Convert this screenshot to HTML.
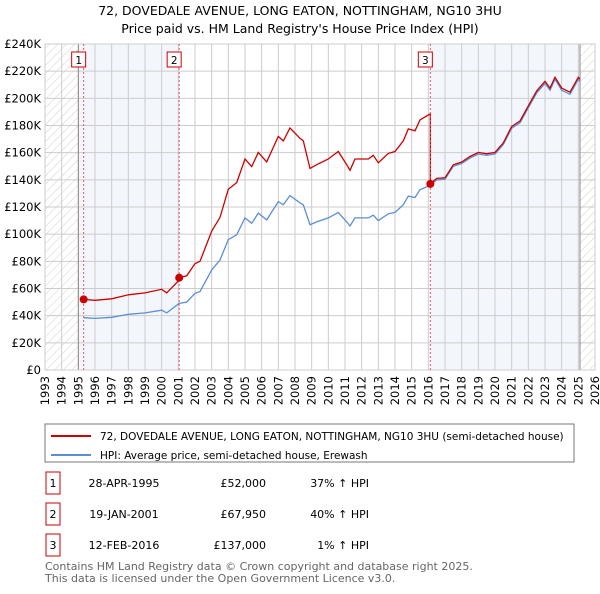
<!DOCTYPE html>
<html><head><meta charset="utf-8"><style>
body{margin:0;background:#fff;font-family:"DejaVu Sans","Liberation Sans",sans-serif;}
svg text{font-family:"DejaVu Sans","Liberation Sans",sans-serif;}
</style></head><body>
<svg id="c" width="600" height="590" xmlns="http://www.w3.org/2000/svg">
<defs><pattern id="hatch" width="6" height="6" patternUnits="userSpaceOnUse" patternTransform="rotate(45)"><line x1="0" y1="0" x2="0" y2="6" stroke="#bbb" stroke-width="0.7"/></pattern></defs>
<text x="300" y="15" text-anchor="middle" font-size="12.5">72, DOVEDALE AVENUE, LONG EATON, NOTTINGHAM, NG10 3HU</text>
<text x="300" y="33" text-anchor="middle" font-size="12.5">Price paid vs. HM Land Registry's House Price Index (HPI)</text>
<g id="plot"></g>
<rect x="45" y="424" width="529" height="38" fill="#fff" stroke="#777"/>
<line x1="51" y1="436" x2="91" y2="436" stroke="#cc0000" stroke-width="2"/>
<text x="100" y="440" font-size="10.5">72, DOVEDALE AVENUE, LONG EATON, NOTTINGHAM, NG10 3HU (semi-detached house)</text>
<line x1="51" y1="455" x2="91" y2="455" stroke="#5b8fd4" stroke-width="2"/>
<text x="100" y="459" font-size="10.5">HPI: Average price, semi-detached house, Erewash</text>
<g id="table" font-size="11"></g>
<text x="45" y="570" font-size="11" fill="#666">Contains HM Land Registry data © Crown copyright and database right 2025.</text>
<text x="45" y="582" font-size="11" fill="#666">This data is licensed under the Open Government Licence v3.0.</text>
</svg>
<script>
const hpiYears=[1995.32,1996,1997,1998,1999,2000,2000.3,2001.05,2001.5,2002,2002.3,2003,2003.5,2004,2004.5,2005,2005.4,2005.8,2006.3,2007,2007.3,2007.7,2008.3,2008.5,2008.9,2009.3,2010,2010.6,2011.1,2011.3,2011.6,2012.4,2012.7,2013,2013.6,2014,2014.5,2014.8,2015.2,2015.5,2016.12,2016.5,2017,2017.5,2018,2018.5,2019,2019.5,2020,2020.5,2021,2021.5,2022,2022.5,2023,2023.3,2023.6,2024,2024.5,2025,2025.1];
const hpiValues=[38.5,38,38.8,41,42,44,42,49,50,56.5,57.7,73.7,81,96,99.5,112,108,115.5,110.5,124,121.6,128.5,123,121.6,107,109,112,116,109,106,112,112,114,110,115,116,121.6,128,127,132.7,136,140,140.5,150,152,156,159,158,159,166,178,182,193,204,211,206,214,206,203,214,212.5];
const saleYears=[1995.32,2001.05,2016.12];
const salePrices=[52,67.95,137];
const saleLabels=["1","2","3"];
const saleDates=["28-APR-1995","19-JAN-2001","12-FEB-2016"];
const salePriceText=["£52,000","£67,950","£137,000"];
const saleHpiText=["37% ↑ HPI","40% ↑ HPI","1% ↑ HPI"];
const yTicks=[0,20,40,60,80,100,120,140,160,180,200,220,240];
const xTicks=[];for(let y=1993;y<=2026;y++)xTicks.push(y);

const X0=45,X1=595,Y0=370,Y1=44;
const xs=y=>X0+(y-1993)/(2026-1993)*(X1-X0);
const ys=v=>Y0-v/240*(Y0-Y1);
const NS="http://www.w3.org/2000/svg";
const plot=document.getElementById('plot');
function mk(tag,attrs,parent,text){const e=document.createElementNS(NS,tag);for(const k in attrs)e.setAttribute(k,attrs[k]);if(text!==undefined)e.textContent=text;(parent||plot).appendChild(e);return e;}
function hpiAt(t){for(let i=0;i<hpiYears.length-1;i++){if(t<=hpiYears[i+1]){const f=(t-hpiYears[i])/(hpiYears[i+1]-hpiYears[i]);return hpiValues[i]+f*(hpiValues[i+1]-hpiValues[i]);}}return hpiValues[hpiValues.length-1];}

let e;
e=mk('rect',{x:X0,y:Y1,width:X1-X0,height:Y0-Y1,fill:'#fff'});

e=mk('rect',{x:X0,y:Y1,width:xs(1995)-X0,height:Y0-Y1,fill:'url(#hatch)'});

e=mk('rect',{x:xs(2025.1),y:Y1,width:X1-xs(2025.1),height:Y0-Y1,fill:'url(#hatch)'});

e=mk('rect',{x:xs(1995),y:Y1,width:xs(saleYears[1])-xs(1995),height:Y0-Y1,fill:'#eef3fc',opacity:0.7});

e=mk('rect',{x:xs(saleYears[2]),y:Y1,width:xs(2025.1)-xs(saleYears[2]),height:Y0-Y1,fill:'#eef3fc',opacity:0.7});

xTicks.forEach(t=>{e=mk('line',{x1:xs(t),x2:xs(t),y1:Y1,y2:Y0,stroke:'#ccc','stroke-width':1});

e=mk('text',{transform:`translate(${xs(t)+4},${Y0+6}) rotate(-90)`,'text-anchor':'end','font-size':11.5},plot,String(t));
});
yTicks.forEach(v=>{e=mk('line',{x1:X0,x2:X1,y1:ys(v),y2:ys(v),stroke:'#ccc','stroke-width':1});

e=mk('text',{x:X0-4,y:ys(v)+4,'text-anchor':'end','font-size':11.5},plot,v===0?'£0':'£'+v+'K');
});
e=mk('line',{x1:xs(1995),x2:xs(1995),y1:Y1,y2:Y0,stroke:'#888'});

e=mk('line',{x1:xs(2025.1),x2:xs(2025.1),y1:Y1,y2:Y0,stroke:'#888'});

e=mk('rect',{x:X0,y:Y1,width:X1-X0,height:Y0-Y1,fill:'none',stroke:'#ccc'});


let d='';hpiYears.forEach((t,i)=>{d+=(i?'L':'M')+xs(t).toFixed(1)+','+ys(hpiValues[i]).toFixed(1);});
e=mk('path',{d:d,fill:'none',stroke:'#5b8fd4','stroke-width':1.3});

let pd='';
for(let s=0;s<saleYears.length;s++){
  const start=saleYears[s],end=s<saleYears.length-1?saleYears[s+1]:hpiYears[hpiYears.length-1];
  const factor=salePrices[s]/hpiAt(start);
  const pts=[start].concat(hpiYears.filter(t=>t>start&&t<end)).concat([end]);
  pts.forEach((t,i)=>{pd+=((s===0&&i===0)?'M':'L')+xs(t).toFixed(1)+','+ys(hpiAt(t)*factor).toFixed(1);});
}
e=mk('path',{d:pd,fill:'none',stroke:'#cc0000','stroke-width':1.3});


saleYears.forEach((t,i)=>{
  e=mk('line',{x1:xs(t),x2:xs(t),y1:Y1,y2:Y0,stroke:'#e55','stroke-width':1,'stroke-dasharray':'2,2'});
  
  e=mk('circle',{cx:xs(t),cy:ys(salePrices[i]),r:4,fill:'#cc0000'});
  
  e=mk('rect',{x:xs(t)-12,y:52,width:14,height:15,fill:'#fff',stroke:'#cc0000'});
  
  e=mk('text',{x:xs(t)-5,y:64,'text-anchor':'middle','font-size':10.5},plot,saleLabels[i]);
  
});

const tbl=document.getElementById('table');
const rowY=[483,514,545];
saleLabels.forEach((l,i)=>{
  const y=rowY[i];
  e=mk('rect',{x:46,y:y-11,width:14,height:22,fill:'#fff',stroke:'#cc0000'},tbl);
  
  e=mk('text',{x:53,y:y+4,'text-anchor':'middle'},tbl,l);
  
  e=mk('text',{x:124,y:y+4,'text-anchor':'middle'},tbl,saleDates[i]);
  
  e=mk('text',{x:266,y:y+4,'text-anchor':'end'},tbl,salePriceText[i]);
  
  e=mk('text',{x:369,y:y+4,'text-anchor':'end'},tbl,saleHpiText[i]);
  
});
</script>
</body></html>
